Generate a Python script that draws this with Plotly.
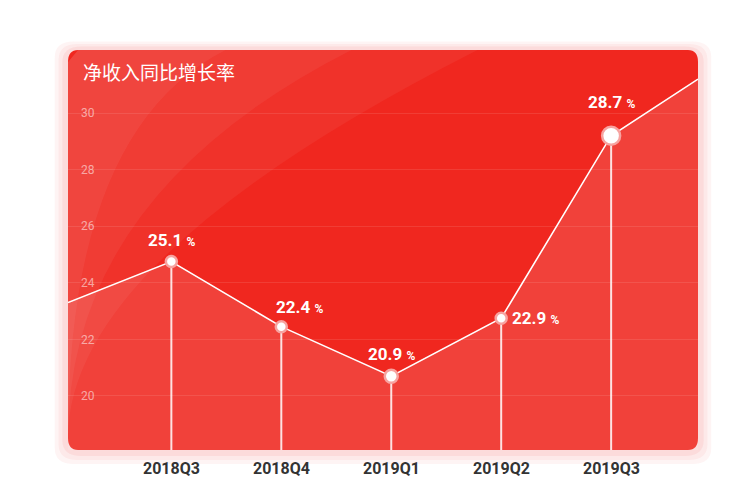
import plotly.graph_objects as go

categories = ["2018Q3", "2018Q4", "2019Q1", "2019Q2", "2019Q3"]
values = [24.75, 22.45, 20.7, 22.75, 29.2]
labels = ["25.1", "22.4", "20.9", "22.9", "28.7"]
edge_left = 23.3
edge_right = 31.2
yticks = [20, 22, 24, 26, 28, 30]

xs = list(range(len(categories)))
XL, XR = -0.94, 4.79
YB, YT = 18.09, 32.23

fig = go.Figure()
lx = [XL] + xs + [XR]
ly = [edge_left] + values + [edge_right]
fig.add_trace(go.Scatter(x=lx, y=ly, mode="lines", line=dict(color="white", width=1.6),
                         fill="tozeroy", fillcolor="rgba(255,255,255,0.12)", hoverinfo="skip"))
dx, dy = [], []
for x, v in zip(xs, values):
    dx += [x, x, None]; dy += [v, YB, None]
fig.add_trace(go.Scatter(x=dx, y=dy, mode="lines", line=dict(color="rgba(255,255,255,0.85)", width=2), hoverinfo="skip"))
sizes = [11, 11, 13, 11, 18]
fig.add_trace(go.Scatter(x=xs, y=values, mode="markers",
                         marker=dict(size=sizes, color="white", opacity=1,
                                     line=dict(color="#f7a3a0", width=2.5))))

offs = [(0, 22), (18, 20), (0, 22), (34, 0), (0, 34)]
for x, v, t, (ox, oy) in zip(xs, values, labels, offs):
    fig.add_annotation(x=x, y=v, text=f"<b>{t}</b> <b><span style='font-size:12px'>%</span></b>",
                       showarrow=False, xshift=ox, yshift=oy,
                       font=dict(size=17, color="white", family="Roboto"))
for x, c in zip(xs, categories):
    fig.add_annotation(x=x, y=-0.075, yref="paper", text=f"<b>{c}</b>", showarrow=False,
                       font=dict(size=16, color="#333333", family="Roboto"))
fig.add_annotation(x=0.02, y=0.985, xref="paper", yref="paper", xanchor="left", yanchor="top",
                   text="净收入同比增长率", showarrow=False,
                   font=dict(size=19, color="white", family="Noto Sans CJK SC"))

def rounded(x0, y0, x1, y1, rx, ry):
    return (f"M {x0+rx},{y0} L {x1-rx},{y0} Q {x1},{y0} {x1},{y0+ry} L {x1},{y1-ry} Q {x1},{y1} {x1-rx},{y1} "
            f"L {x0+rx},{y1} Q {x0},{y1} {x0},{y1-ry} L {x0},{y0+ry} Q {x0},{y0} {x0+rx},{y0} Z")
for i, op in enumerate([0.05, 0.05, 0.07]):
    g = 0.035 - i * 0.01
    fig.add_shape(type="path", xref="paper", yref="paper", layer="below",
                  path=rounded(-g * 0.6, -g, 1 + g * 0.6, 1 + g * 0.6, 0.03, 0.04),
                  fillcolor=f"rgba(240,40,40,{op})", line=dict(width=0))
fig.add_shape(type="path", xref="paper", yref="paper", layer="below",
              path=rounded(0, 0, 1, 1, 0.016, 0.03), fillcolor="#f0271f", line=dict(width=0))
for k, op in enumerate([0.05, 0.05, 0.05]):
    w = 0.25 + 0.2 * k
    fig.add_shape(type="path", xref="paper", yref="paper", layer="below",
                  path=f"M 0,0.03 L 0,0.97 L 0.016,1 L {w},1 Q 0,{1-w*0.8} 0,0.03 Z",
                  fillcolor=f"rgba(255,255,255,{op})", line=dict(width=0))

fig.update_layout(width=749, height=500, margin=dict(l=60, r=59, t=42, b=58, autoexpand=False),
                  paper_bgcolor="white", plot_bgcolor="rgba(0,0,0,0)", showlegend=False,
                  xaxis=dict(range=[XL, XR], visible=False, fixedrange=True, automargin=False),
                  yaxis=dict(range=[YB, YT], tickvals=yticks, ticklabelposition="inside", automargin=False,
                             tickfont=dict(size=12, color="rgba(255,255,255,0.55)", family="Roboto"),
                             gridcolor="rgba(255,255,255,0.10)", zeroline=False, showline=False,
                             ticklabelstandoff=10))
fig.write_html("out.html")
